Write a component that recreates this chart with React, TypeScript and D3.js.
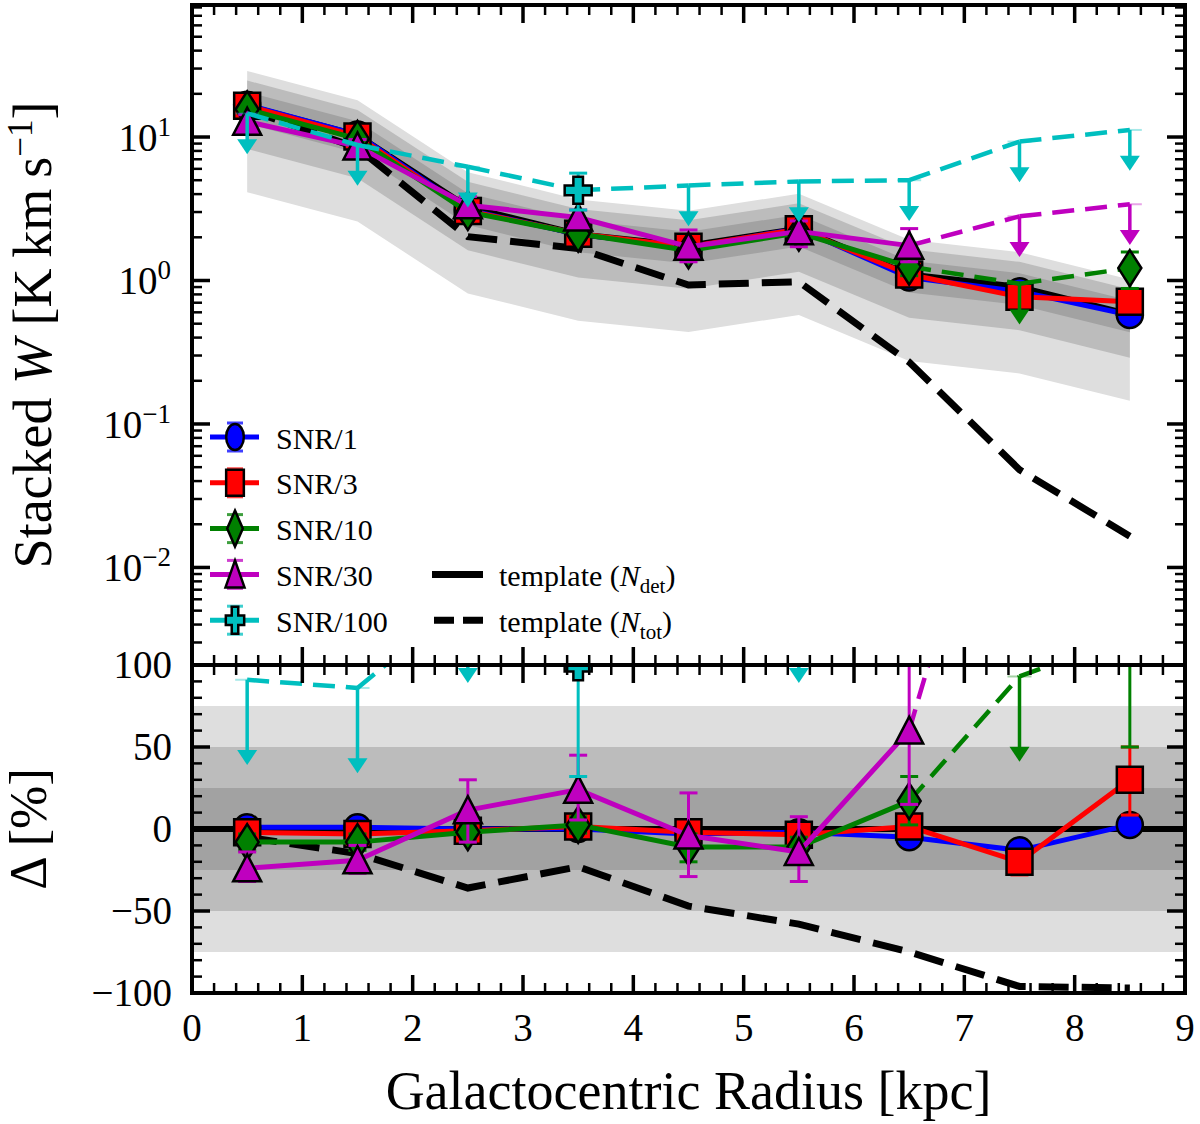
import * as d3 from "d3";

// ---- data ----
const radius = [0.5, 1.5, 2.5, 3.5, 4.5, 5.5, 6.5, 7.5, 8.5];

const templateDet = [16.5, 10.3, 3.25, 2.1, 1.75, 2.3, 1.1, 0.9, 0.58];
const templateTot = [15.6, 8.4, 2.02, 1.67, 0.93, 0.98, 0.27, 0.048, 0.0165];
const templateTotDelta = [-5, -15, -36, -23, -47, -58, -75, -96, -97];
const bandFractions = [0.75, 0.5, 0.25];

const snr1W = [16.8, 10.4, 3.1, 2.1, 1.7, 2.3, 1.05, 0.84, 0.575];
const snr1WLo = [16.0, 9.9, 2.95, 2.0, 1.6, 2.18, 0.99, 0.8, 0.55];
const snr1WHi = [17.6, 10.9, 3.25, 2.2, 1.8, 2.42, 1.11, 0.88, 0.6];
const snr1D = [1, 1, 0, 0, -3, -2, -5, -13, 2.5];
const snr1DLo = [-3, -3, -4, -4, -7, -6, -9, -17, -1];
const snr1DHi = [5, 5, 4, 4, 1, 2, -1, -9, 6];
const snr1Limit = [false, false, false, false, false, false, false, false, false];

const snr3W = [16.5, 10.1, 3.05, 2.12, 1.72, 2.28, 1.1, 0.77, 0.71];
const snr3WLo = [15.5, 9.5, 2.85, 1.98, 1.6, 2.14, 1.02, 0.72, 0.64];
const snr3WHi = [17.5, 10.7, 3.25, 2.26, 1.84, 2.42, 1.18, 0.82, 0.79];
const snr3D = [-2, -3, -1, 1.5, -2, -3.5, 1.5, -20, 30];
const snr3DLo = [-7, -8, -6, -3.5, -7, -8, -3.5, -28, 8.5];
const snr3DHi = [3, 2, 4, 6.5, 3, 1, 6.5, -14, 50];
const snr3Limit = [false, false, false, false, false, false, false, false, false];

const snr10W = [15.6, 9.7, 3.0, 2.12, 1.62, 2.15, 1.25, 0.95, 1.22];
const snr10WLo = [14.4, 9.0, 2.75, 1.92, 1.46, 1.95, 1.08, null, 0.88];
const snr10WHi = [16.8, 10.4, 3.25, 2.32, 1.78, 2.35, 1.42, null, 1.58];
const snr10D = [-8, -8, -2, 2.5, -11, -11, 17, 93, 118];
const snr10DLo = [-13, -13, -7, -2.5, -20, -17, 2.5, null, 50];
const snr10DHi = [-3, -3, 3, 7.5, -3, -5, 32, null, 186];
const snr10Limit = [false, false, false, false, false, false, false, true, false];

const snr30W = [12.8, 8.6, 3.35, 2.75, 1.72, 2.2, 1.75, 2.8, 3.4];
const snr30WLo = [11.4, 7.6, 2.9, 2.35, 1.35, 1.72, 1.35, null, null];
const snr30WHi = [14.3, 9.6, 3.85, 3.1, 2.25, 2.6, 2.3, null, null];
const snr30D = [-24, -19, 11.5, 24, -4, -14, 60, 290, 330];
const snr30DLo = [-32, -27, -8, 5.5, -29, -32, 15, null, null];
const snr30DHi = [-14, -10, 30, 45, 22, 7.5, 140, null, null];
const snr30Limit = [false, false, false, false, false, false, false, true, true];

const snr100W = [14.6, 8.8, 6.2, 4.25, 4.6, 4.9, 5.0, 9.3, 11.2];
const snr100WLo = [null, null, null, 3.1, null, null, null, null, null];
const snr100WHi = [null, null, null, 5.6, null, null, null, null, null];
const snr100D = [91, 86, 141, 99, 165, 141, 355, 930, 1830];
const snr100DLo = [null, null, null, 32, null, null, null, null, null];
const snr100DHi = [null, null, null, 165, null, null, null, null, null];
const snr100Limit = [true, true, true, false, true, true, true, true, true];

const xTickLabels = ["0", "1", "2", "3", "4", "5", "6", "7", "8", "9"];
const topTickExps = [-2, -1, 0, 1];
const bottomTicks = [-100, -50, 0, 50, 100];

const SERIES = [
  { label: "SNR/1", color: "#0000ff", shape: "circle", w: snr1W, wLo: snr1WLo, wHi: snr1WHi, d: snr1D, dLo: snr1DLo, dHi: snr1DHi, limit: snr1Limit },
  { label: "SNR/3", color: "#ff0000", shape: "square", w: snr3W, wLo: snr3WLo, wHi: snr3WHi, d: snr3D, dLo: snr3DLo, dHi: snr3DHi, limit: snr3Limit },
  { label: "SNR/10", color: "#008000", shape: "diamond", w: snr10W, wLo: snr10WLo, wHi: snr10WHi, d: snr10D, dLo: snr10DLo, dHi: snr10DHi, limit: snr10Limit },
  { label: "SNR/30", color: "#bf00bf", shape: "triangle", w: snr30W, wLo: snr30WLo, wHi: snr30WHi, d: snr30D, dLo: snr30DLo, dHi: snr30DHi, limit: snr30Limit },
  { label: "SNR/100", color: "#00bfbf", shape: "plus", w: snr100W, wLo: snr100WLo, wHi: snr100WHi, d: snr100D, dLo: snr100DLo, dHi: snr100DHi, limit: snr100Limit },
];

// ---- layout ----
const X0 = 192;
const X1 = 1185;
const TOP0 = 5;
const SPLIT = 665;
const BOT1 = 993;
const FONT = "'Liberation Serif', 'DejaVu Serif', serif";
const BAND_COLORS = ["#dedede", "#bcbcbc", "#a2a2a2"];

const x = d3.scaleLinear().domain([0, 9]).range([X0, X1]);
const yTop = d3.scaleLog().domain([0.00209, 83.2]).range([SPLIT, TOP0]);
const yBot = d3.scaleLinear().domain([-100, 100]).range([BOT1, SPLIT]);

function Marker({ shape, cx, cy, color, sx = 1 }: any) {
  const common = {
    fill: color,
    stroke: "#000",
    strokeWidth: 2.5,
    vectorEffect: "non-scaling-stroke" as any,
    transform: `translate(${cx},${cy}) scale(${sx},1)`,
  };
  if (shape === "circle") return <circle r={13} {...common} />;
  if (shape === "square") return <rect x={-13} y={-13} width={26} height={26} {...common} />;
  if (shape === "diamond") return <path d="M0,-18L11.5,0L0,18L-11.5,0Z" {...common} />;
  if (shape === "triangle") return <path d="M0,-14L14,13L-14,13Z" {...common} />;
  return (
    <path
      d="M-4.8,-13.5H4.8V-4.8H13.5V4.8H4.8V13.5H-4.8V4.8H-13.5V-4.8H-4.8Z"
      {...common}
    />
  );
}

function SeriesMarks({ s, y, vals, lo, hi, tipOf }: any) {
  const px = radius.map((r) => x(r));
  const py = vals.map((v: number) => y(v));
  const segs = d3.range(radius.length - 1).map((i) => {
    const dashed = s.limit[i] || s.limit[i + 1];
    return (
      <line
        key={"s" + i}
        x1={px[i]}
        y1={py[i]}
        x2={px[i + 1]}
        y2={py[i + 1]}
        stroke={s.color}
        strokeWidth={dashed ? 4.5 : 5}
        strokeDasharray={dashed ? "22 11" : undefined}
        strokeLinecap={dashed ? "butt" : "round"}
      />
    );
  });
  return (
    <g>
      {segs}
      {radius.map((_, i) => {
        if (s.limit[i]) {
          const tip = y(tipOf(vals[i]));
          return (
            <g key={"a" + i}>
              <line x1={px[i] - 12} x2={px[i] + 12} y1={py[i]} y2={py[i]} stroke={s.color} strokeWidth={2} opacity={0.35} />
              <line x1={px[i]} x2={px[i]} y1={py[i]} y2={tip - 12} stroke={s.color} strokeWidth={3.5} />
              <path d={`M${px[i] - 10},${tip - 15}L${px[i] + 10},${tip - 15}L${px[i]},${tip}Z`} fill={s.color} />
            </g>
          );
        }
        if (lo[i] == null) return null;
        const yl = y(lo[i]);
        const yh = y(hi[i]);
        return (
          <g key={"e" + i} stroke={s.color} strokeWidth={3}>
            <line x1={px[i]} x2={px[i]} y1={yl} y2={yh} />
            <line x1={px[i] - 9} x2={px[i] + 9} y1={yl} y2={yl} />
            <line x1={px[i] - 9} x2={px[i] + 9} y1={yh} y2={yh} />
          </g>
        );
      })}
      {radius.map((_, i) =>
        s.limit[i] ? null : <Marker key={"m" + i} shape={s.shape} cx={px[i]} cy={py[i]} color={s.color} />
      )}
    </g>
  );
}

function App() {
  const xMajor = d3.range(0, 10);
  const xMinor = d3.range(1, 45).filter((i) => i % 5 !== 0).map((i) => i / 5);
  const topMajor = topTickExps.map((e) => Math.pow(10, e));
  const topMinor: number[] = [];
  for (let e = -3; e <= 1; e++) {
    for (let m = 2; m <= 9; m++) {
      const v = m * Math.pow(10, e);
      if (v > yTop.domain()[0] && v < yTop.domain()[1]) topMinor.push(v);
    }
  }
  const botMinor = d3.range(-90, 100, 10).filter((v) => v % 50 !== 0);

  const areaTop = (f: number) =>
    d3
      .area<number>()
      .x((_, i) => x(radius[i]))
      .y0((t) => yTop(t * (1 - f)))
      .y1((t) => yTop(t * (1 + f)))(templateDet) ?? "";

  const lineTop = d3
    .line<number>()
    .x((_, i) => x(radius[i]))
    .y((v) => yTop(v));
  const lineBot = d3
    .line<number>()
    .x((_, i) => x(radius[i]))
    .y((v) => yBot(v));

  const tickLine = (k: string, x1: number, y1: number, x2: number, y2: number, major: boolean) => (
    <line key={k} x1={x1} y1={y1} x2={x2} y2={y2} stroke="#000" strokeWidth={major ? 3.5 : 2.5} />
  );
  const ML = 18;
  const mL = 10;

  const legendRows = SERIES.map((_, i) => 437 + i * 45.8);

  return (
    <svg
      width={1200}
      height={1124}
      style={{ position: "absolute", left: 0, top: 0, background: "#fff" }}
      fontFamily={FONT}
    >
      <defs>
        <clipPath id="clipTop">
          <rect x={X0} y={TOP0} width={X1 - X0} height={SPLIT - TOP0} />
        </clipPath>
        <clipPath id="clipBot">
          <rect x={X0} y={SPLIT} width={X1 - X0} height={BOT1 - SPLIT} />
        </clipPath>
      </defs>
      <rect width={1200} height={1124} fill="#fff" />

      {/* top panel */}
      <g clipPath="url(#clipTop)">
        {bandFractions.map((f, i) => (
          <path key={f} d={areaTop(f)} fill={BAND_COLORS[i]} />
        ))}
        <path d={lineTop(templateDet) ?? ""} fill="none" stroke="#000" strokeWidth={6} strokeLinejoin="round" />
        <path d={lineTop(templateTot) ?? ""} fill="none" stroke="#000" strokeWidth={7} strokeDasharray="30 13" />
        {SERIES.map((s) => (
          <SeriesMarks key={s.label} s={s} y={yTop} vals={s.w} lo={s.wLo} hi={s.wHi} tipOf={(v: number) => v * 0.52} />
        ))}
      </g>

      {/* bottom panel */}
      <g clipPath="url(#clipBot)">
        {bandFractions.map((f, i) => (
          <rect
            key={f}
            x={X0}
            width={X1 - X0}
            y={yBot(f * 100)}
            height={yBot(-f * 100) - yBot(f * 100)}
            fill={BAND_COLORS[i]}
          />
        ))}
        <line x1={X0} x2={X1} y1={yBot(0)} y2={yBot(0)} stroke="#000" strokeWidth={6} />
        <path d={lineBot(templateTotDelta) ?? ""} fill="none" stroke="#000" strokeWidth={7} strokeDasharray="30 13" />
        {SERIES.map((s) => (
          <SeriesMarks key={s.label} s={s} y={yBot} vals={s.d} lo={s.dLo} hi={s.dHi} tipOf={(v: number) => v - 52} />
        ))}
      </g>

      {/* ticks */}
      <g>
        {xMajor.map((v) => (
          <g key={"xM" + v}>
            {tickLine("a", x(v), TOP0, x(v), TOP0 + ML, true)}
            {tickLine("b", x(v), SPLIT - ML, x(v), SPLIT + ML, true)}
            {tickLine("c", x(v), BOT1, x(v), BOT1 - ML, true)}
          </g>
        ))}
        {xMinor.map((v) => (
          <g key={"xm" + v}>
            {tickLine("a", x(v), TOP0, x(v), TOP0 + mL, false)}
            {tickLine("b", x(v), SPLIT - mL, x(v), SPLIT + mL, false)}
            {tickLine("c", x(v), BOT1, x(v), BOT1 - mL, false)}
          </g>
        ))}
        {topMajor.map((v) => (
          <g key={"tM" + v}>
            {tickLine("l", X0, yTop(v), X0 + ML, yTop(v), true)}
            {tickLine("r", X1, yTop(v), X1 - ML, yTop(v), true)}
          </g>
        ))}
        {topMinor.map((v) => (
          <g key={"tm" + v}>
            {tickLine("l", X0, yTop(v), X0 + mL, yTop(v), false)}
            {tickLine("r", X1, yTop(v), X1 - mL, yTop(v), false)}
          </g>
        ))}
        {bottomTicks.map((v) => (
          <g key={"bM" + v}>
            {tickLine("l", X0, yBot(v), X0 + ML, yBot(v), true)}
            {tickLine("r", X1, yBot(v), X1 - ML, yBot(v), true)}
          </g>
        ))}
        {botMinor.map((v) => (
          <g key={"bm" + v}>
            {tickLine("l", X0, yBot(v), X0 + mL, yBot(v), false)}
            {tickLine("r", X1, yBot(v), X1 - mL, yBot(v), false)}
          </g>
        ))}
      </g>

      {/* frames */}
      <rect x={X0} y={TOP0} width={X1 - X0} height={SPLIT - TOP0} fill="none" stroke="#000" strokeWidth={4} />
      <rect x={X0} y={SPLIT} width={X1 - X0} height={BOT1 - SPLIT} fill="none" stroke="#000" strokeWidth={4} />

      {/* tick labels */}
      <g fontSize={39} fill="#000">
        {xMajor.map((v, i) => (
          <text key={"xl" + v} x={x(v)} y={1041} textAnchor="middle">
            {xTickLabels[i]}
          </text>
        ))}
        {topTickExps.map((e) => (
          <text key={"tl" + e} x={171} y={yTop(Math.pow(10, e)) + 14} textAnchor="end">
            10
            <tspan dy={-15} fontSize={27}>
              {e < 0 ? "\u2212" + Math.abs(e) : String(e)}
            </tspan>
          </text>
        ))}
        {bottomTicks.map((v) => (
          <text key={"bl" + v} x={172} y={yBot(v) + 13} textAnchor="end">
            {v < 0 ? "\u2212" + Math.abs(v) : String(v)}
          </text>
        ))}
      </g>

      {/* axis labels */}
      <text transform={`translate(51,${(TOP0 + SPLIT) / 2}) rotate(-90)`} textAnchor="middle" fontSize={54}>
        Stacked <tspan fontStyle="italic">W</tspan> [K{"\u2009"}km{"\u2009"}s
        <tspan dy={-19} fontSize={35}>
          {"\u2212"}1
        </tspan>
        <tspan dy={19}>]</tspan>
      </text>
      <text transform={`translate(46,${yBot(0)}) rotate(-90)`} textAnchor="middle" fontSize={52}>
        {"\u0394 [%]"}
      </text>
      <text x={(X0 + X1) / 2} y={1109} textAnchor="middle" fontSize={54}>
        Galactocentric Radius [kpc]
      </text>

      {/* legend */}
      <g>
        {SERIES.map((s, i) => {
          const ly = legendRows[i];
          return (
            <g key={s.label}>
              <line x1={210} x2={259} y1={ly} y2={ly} stroke={s.color} strokeWidth={5} />
              <g stroke={s.color} strokeWidth={3} opacity={0.75}>
                <line x1={235} x2={235} y1={ly - 14} y2={ly + 14} />
                <line x1={227} x2={243} y1={ly - 14} y2={ly - 14} />
                <line x1={227} x2={243} y1={ly + 14} y2={ly + 14} />
              </g>
              <Marker shape={s.shape} cx={235} cy={ly} color={s.color} sx={0.68} />
              <text x={276} y={ly + 11.5} fontSize={30}>
                {s.label}
              </text>
            </g>
          );
        })}
        <line x1={432} x2={483} y1={legendRows[3]} y2={legendRows[3]} stroke="#000" strokeWidth={7} />
        <line x1={434} x2={483} y1={legendRows[4]} y2={legendRows[4]} stroke="#000" strokeWidth={7} strokeDasharray="20 9" />
        <text x={499} y={legendRows[3] + 11.5} fontSize={30}>
          template (<tspan fontStyle="italic">N</tspan>
          <tspan dy={7} fontSize={21}>det</tspan>
          <tspan dy={-7}>)</tspan>
        </text>
        <text x={499} y={legendRows[4] + 11.5} fontSize={30}>
          template (<tspan fontStyle="italic">N</tspan>
          <tspan dy={7} fontSize={21}>tot</tspan>
          <tspan dy={-7}>)</tspan>
        </text>
      </g>
    </svg>
  );
}

export default App;
